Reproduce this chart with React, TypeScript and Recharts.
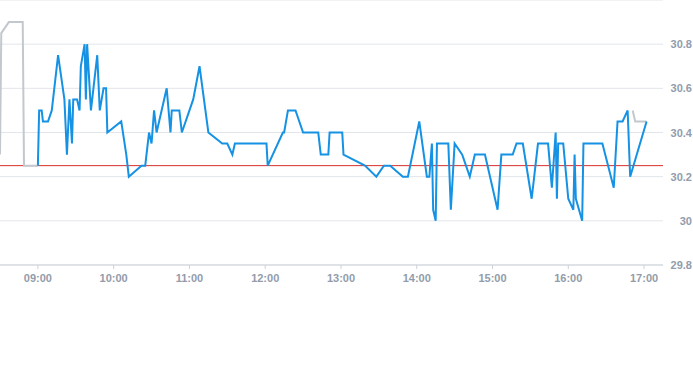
import { LineChart, Line, XAxis, YAxis, CartesianGrid, ReferenceLine } from "recharts";

// session prices (blue)
const sessionTimes = [
  "09:00", "09:01", "09:03", "09:04", "09:08", "09:11", "09:13", "09:16", "09:21", "09:23",
  "09:25", "09:27", "09:28", "09:31", "09:33", "09:34", "09:37", "09:38", "09:39", "09:42",
  "09:47", "09:49", "09:52", "09:54", "09:55", "10:06", "10:10", "10:12", "10:22", "10:25",
  "10:27", "10:28", "10:30", "10:32", "10:34", "10:42", "10:45", "10:46", "10:52", "10:54",
  "11:03", "11:08", "11:15", "11:26", "11:30", "11:34", "11:36", "12:01", "12:02", "12:14",
  "12:15", "12:18", "12:24", "12:30", "12:42", "12:44", "12:50", "12:51", "13:01", "13:02",
  "13:19", "13:28", "13:34", "13:39", "13:49", "13:53", "14:02", "14:08", "14:10", "14:12",
  "14:13", "14:15", "14:16", "14:25", "14:27", "14:30", "14:36", "14:42", "14:46", "14:54",
  "15:04", "15:07", "15:16", "15:19", "15:24", "15:31", "15:36", "15:44", "15:47", "15:50",
  "15:51", "15:52", "15:56", "16:00", "16:04", "16:05", "16:06", "16:11", "16:12", "16:27",
  "16:36", "16:39", "16:43", "16:47", "16:49", "17:02",
];
const sessionPrices = [
  30.25, 30.5, 30.5, 30.45, 30.45, 30.5, 30.6, 30.75, 30.55, 30.3,
  30.55, 30.35, 30.55, 30.55, 30.5, 30.7, 30.8, 30.55, 30.8, 30.5,
  30.75, 30.5, 30.6, 30.6, 30.4, 30.45, 30.3, 30.2, 30.25, 30.25,
  30.35, 30.4, 30.35, 30.5, 30.4, 30.6, 30.4, 30.5, 30.5, 30.4,
  30.55, 30.7, 30.4, 30.35, 30.35, 30.3, 30.35, 30.35, 30.25, 30.4,
  30.4, 30.5, 30.5, 30.4, 30.4, 30.3, 30.3, 30.4, 30.4, 30.3,
  30.25, 30.2, 30.25, 30.25, 30.2, 30.2, 30.45, 30.2, 30.2, 30.35,
  30.05, 30.0, 30.35, 30.35, 30.05, 30.35, 30.3, 30.2, 30.3, 30.3,
  30.05, 30.3, 30.3, 30.35, 30.35, 30.1, 30.35, 30.35, 30.15, 30.4,
  30.1, 30.35, 30.35, 30.1, 30.05, 30.3, 30.1, 30.0, 30.35, 30.35,
  30.15, 30.45, 30.45, 30.5, 30.2, 30.45,
];

// pre-market (grey)
const preTimes = ["08:30", "08:31", "08:37", "08:48", "08:49", "09:00"];
const prePrices = [30.3, 30.85, 30.9, 30.9, 30.25, 30.25];

// post-market (grey)
const postTimes = ["16:51", "16:53", "17:02"];
const postPrices = [30.5, 30.45, 30.45];

const previousClose = 30.25;
const xTicks = ["09:00", "10:00", "11:00", "12:00", "13:00", "14:00", "15:00", "16:00", "17:00"];
const yTicks = [29.8, 30, 30.2, 30.4, 30.6, 30.8];

const toMin = (s: string) => {
  const [h, m] = s.split(":").map(Number);
  return h * 60 + m;
};
const fmt = (v: number) =>
  `${String(Math.floor(v / 60)).padStart(2, "0")}:${String(v % 60).padStart(2, "0")}`;

const build = (times: string[], prices: number[]) =>
  times.map((t, i) => ({ t: toMin(t), price: prices[i] }));

const sessionData = build(sessionTimes, sessionPrices);
const preData = build(preTimes, prePrices);
const postData = build(postTimes, postPrices);

const FONT = "'Liberation Sans', Arial, sans-serif";
const LABEL = "#929cab";
const RED = "#d9302c";

const PriceTick = ({ y, payload }: any) => (
  <text
    x={692}
    y={y}
    dy={4}
    textAnchor="end"
    fill={LABEL}
    fontSize={11}
    fontWeight="bold"
    fontFamily={FONT}
  >
    {payload.value}
  </text>
);

// previous close line, drawn by hand so the colour sticks
const CloseLine = (props: any) => (
  <line x1={props.x1} y1={props.y1} x2={props.x2} y2={props.y2} stroke={RED} strokeWidth={1} />
);

export default function App() {
  return (
    <div style={{ position: "absolute", left: 0, top: 0 }}>
      <LineChart width={693} height={365} margin={{ top: 0, right: 0, left: 0, bottom: 70 }}>
        <CartesianGrid vertical={false} stroke="#e2e5e9" />
        <XAxis
          type="number"
          dataKey="t"
          domain={[510, 1035]}
          ticks={xTicks.map(toMin)}
          tickFormatter={fmt}
          allowDataOverflow
          height={30}
          stroke="#cdd2d9"
          tickSize={4}
          tickMargin={5}
          tick={{ fill: LABEL, fontSize: 11, fontWeight: "bold", fontFamily: FONT }}
        />
        <YAxis
          orientation="right"
          domain={[29.8, 31.0]}
          ticks={yTicks}
          width={30}
          axisLine={false}
          tickLine={false}
          allowDataOverflow
          tick={<PriceTick />}
        />
        <ReferenceLine y={previousClose} stroke={RED} shape={CloseLine} />
        <Line
          data={preData}
          dataKey="price"
          type="linear"
          stroke="#c3c8ce"
          strokeWidth={2}
          dot={false}
          activeDot={false}
          isAnimationActive={false}
        />
        <Line
          data={postData}
          dataKey="price"
          type="linear"
          stroke="#c3c8ce"
          strokeWidth={2}
          dot={false}
          activeDot={false}
          isAnimationActive={false}
        />
        <Line
          data={sessionData}
          dataKey="price"
          type="linear"
          stroke="#1592e3"
          strokeWidth={2}
          dot={false}
          activeDot={false}
          isAnimationActive={false}
        />
      </LineChart>
    </div>
  );
}
